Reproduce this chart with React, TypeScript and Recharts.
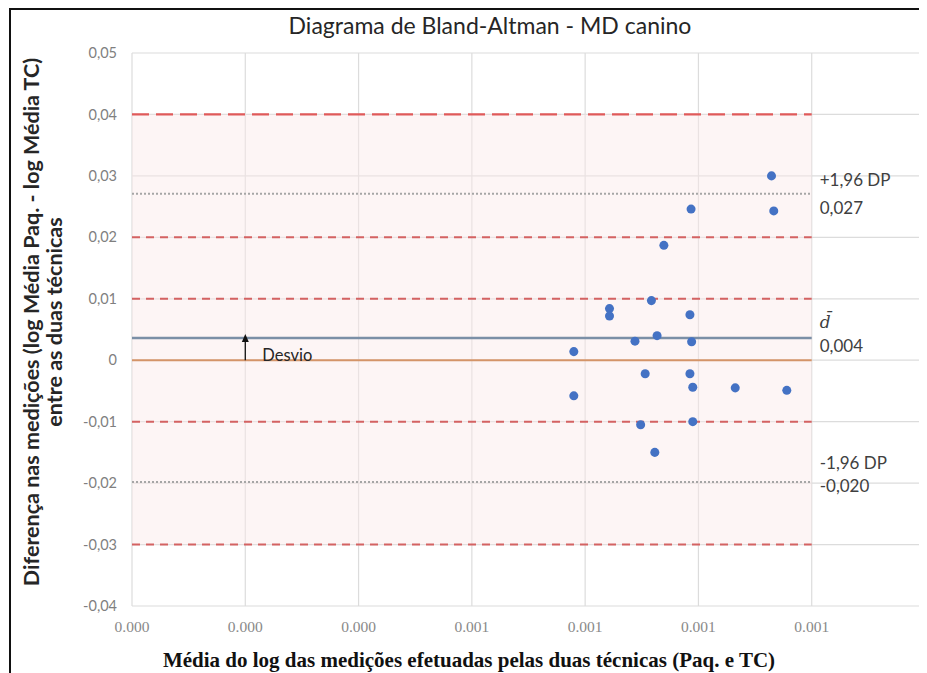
import React from 'react';
import {
  ScatterChart,
  Scatter,
  XAxis,
  YAxis,
  CartesianGrid,
  ReferenceLine,
  ReferenceArea,
} from 'recharts';

// Mean of the log of both measurements (x) and their difference (y)
const meanLog = [
  0.001129, 0.000987, 0.001133, 0.000939, 0.000917, 0.000843, 0.000843,
  0.000985, 0.000927, 0.000888, 0.000988, 0.00078, 0.000906, 0.000985,
  0.00099, 0.001065, 0.001156, 0.00078, 0.000898, 0.00099, 0.000923,
];
const diffLog = [
  0.0300, 0.0246, 0.0243, 0.0187, 0.0097, 0.0084, 0.0072,
  0.0074, 0.0040, 0.0031, 0.0030, 0.0014, -0.0022, -0.0022,
  -0.0044, -0.0045, -0.0049, -0.0058, -0.0105, -0.0100, -0.0150,
];

const xTicks = [0, 0.0002, 0.0004, 0.0006, 0.0008, 0.001, 0.0012, 0.0014];
const yTicks = [-0.04, -0.03, -0.02, -0.01, 0, 0.01, 0.02, 0.03, 0.04, 0.05];
const longDashLevels = [0.04];
const shortDashLevels = [0.02, 0.01, -0.01, -0.03];
const meanDiff = 0.0036;
const upperLimit = 0.0271;
const lowerLimit = -0.0198;
const shadeBand = [-0.03, 0.04];
const lastTick = 0.0012;
const arrowX = 0.0002;

const points = meanLog.map((x, i) => ({ x, y: diffLog[i] }));

const SANS = 'Lato, "Open Sans", sans-serif';
const SERIF = '"Liberation Serif", "Times New Roman", serif';

const comma = (v: number, digits: number) => v.toFixed(digits).replace('.', ',');

const yTickFormat = (v: number) => (Math.abs(v) < 1e-9 ? '0' : comma(v, 2));
const xTickFormat = (v: number) => (v > lastTick + 1e-9 ? '' : v.toFixed(3));

// Two-line text written to the right of a limit line
const sideLabel = (
  first: React.ReactNode,
  value: number,
  dyFirst: number,
  dySecond: number,
  firstStyle?: React.CSSProperties,
) =>
  (props: any) => {
    const vb = props.viewBox || {};
    const x = (vb.x || 0) + (vb.width || 0) + 8;
    const y = vb.y || 0;
    return (
      <g>
        <text x={x} y={y + dyFirst} fill="#404040" fontSize={17} fontFamily={SANS} dominantBaseline="middle" style={firstStyle}>
          {first}
        </text>
        <text x={x} y={y + dySecond} fill="#404040" fontSize={17} fontFamily={SANS} dominantBaseline="middle">
          {comma(value, 3)}
        </text>
      </g>
    );
  };

// Arrow from zero up to the mean difference, with its caption
const biasArrow = (p: any) => {
  const { x1, y1, x2, y2 } = p;
  const top = Math.min(y1, y2) - 4;
  const bottom = Math.max(y1, y2);
  return (
    <g>
      <line x1={x1} y1={bottom} x2={x2} y2={top + 6} stroke="#111" strokeWidth={1.3} />
      <polygon points={`${x2 - 3.5},${top + 8} ${x2 + 3.5},${top + 8} ${x2},${top}`} fill="#111" />
      <text x={x1 + 17} y={bottom - 3} fill="#262626" fontSize={16.5} fontFamily={SANS} dominantBaseline="middle">
        Desvio
      </text>
    </g>
  );
};

export default function App() {
  return (
    <div
      style={{
        position: 'relative',
        width: 918,
        height: 665,
        marginLeft: 1,
        borderTop: '2px solid #111',
        borderLeft: '2px solid #111',
        boxSizing: 'border-box',
        background: '#fff',
      }}
    >
      <div
        style={{
          position: 'absolute',
          left: 479 - 300,
          width: 600,
          top: 1,
          textAlign: 'center',
          fontFamily: SANS,
          fontSize: 23,
          lineHeight: '28px',
          color: '#262626',
          whiteSpace: 'nowrap',
        }}
      >
        Diagrama de Bland-Altman - MD canino
      </div>

      <div
        style={{
          position: 'absolute',
          left: 32 - 320,
          top: 312 - 23,
          width: 640,
          height: 46,
          transform: 'rotate(-90deg)',
          textAlign: 'center',
          fontFamily: SANS,
          fontWeight: 700,
          fontSize: 21.5,
          lineHeight: '23px',
          color: '#262626',
          whiteSpace: 'nowrap',
        }}
      >
        Diferença nas medições (log Média Paq. - log Média TC)
        <br />
        entre as duas técnicas
      </div>

      <div
        style={{
          position: 'absolute',
          left: 458 - 400,
          width: 800,
          top: 637,
          textAlign: 'center',
          fontFamily: SERIF,
          fontWeight: 700,
          fontSize: 21,
          lineHeight: '26px',
          color: '#111',
          whiteSpace: 'nowrap',
        }}
      >
        Média do log das medições efetuadas pelas duas técnicas (Paq. e TC)
      </div>

      <ScatterChart width={916} height={663} margin={{ top: 43, right: 2, bottom: 37, left: 21 }}>
        <CartesianGrid stroke="#dcdcdc" strokeWidth={1.2} />
        <XAxis
          type="number"
          dataKey="x"
          domain={[0, 0.0014]}
          ticks={xTicks}
          tickFormatter={xTickFormat}
          axisLine={false}
          tickLine={false}
          tickSize={8}
          tickMargin={7}
          height={30}
          tick={{ fill: '#8a8a8a', fontSize: 15.5, fontFamily: SERIF }}
          allowDataOverflow
        />
        <YAxis
          type="number"
          dataKey="y"
          domain={[-0.04, 0.05]}
          ticks={yTicks}
          tickFormatter={yTickFormat}
          axisLine={false}
          tickLine={false}
          tickSize={8}
          tickMargin={7}
          width={100}
          tick={{ fill: '#7f7f7f', fontSize: 14.5, fontFamily: SANS }}
          allowDataOverflow
        />

        <ReferenceArea
          x1={0}
          x2={lastTick}
          y1={shadeBand[0]}
          y2={shadeBand[1]}
          fill="#fbe9e9"
          fillOpacity={0.45}
          stroke="none"
        />

        {longDashLevels.map((v) => (
          <ReferenceLine
            key={`l${v}`}
            segment={[{ x: 0, y: v }, { x: lastTick, y: v }]}
            stroke="#e05a5a"
            strokeWidth={2.2}
            strokeDasharray="17 7"
          />
        ))}
        {shortDashLevels.map((v) => (
          <ReferenceLine
            key={`s${v}`}
            segment={[{ x: 0, y: v }, { x: lastTick, y: v }]}
            stroke="#d46262"
            strokeWidth={2}
            strokeDasharray="8 6"
          />
        ))}

        <ReferenceLine
          segment={[{ x: 0, y: 0 }, { x: lastTick, y: 0 }]}
          stroke="#d49468"
          strokeWidth={2}
        />
        <ReferenceLine
          segment={[{ x: 0, y: upperLimit }, { x: lastTick, y: upperLimit }]}
          stroke="#a6a6a6"
          strokeWidth={2}
          strokeDasharray="2 2"
          label={sideLabel('+1,96 DP', upperLimit, -12, 16)}
        />
        <ReferenceLine
          segment={[{ x: 0, y: lowerLimit }, { x: lastTick, y: lowerLimit }]}
          stroke="#a6a6a6"
          strokeWidth={2}
          strokeDasharray="2 2"
          label={sideLabel('-1,96 DP', lowerLimit, -17, 6)}
        />
        <ReferenceLine
          segment={[{ x: 0, y: meanDiff }, { x: lastTick, y: meanDiff }]}
          stroke="#7b8fa6"
          strokeWidth={2.5}
          label={sideLabel('d\u0304', meanDiff, -15, 10, {
            fontFamily: '"DejaVu Serif", serif',
            fontStyle: 'italic',
            fontSize: 17,
          })}
        />
        <ReferenceLine
          segment={[{ x: arrowX, y: 0 }, { x: arrowX, y: meanDiff }]}
          stroke="#111"
          shape={biasArrow}
        />

        <Scatter data={points} fill="#4472c4" isAnimationActive={false} />
      </ScatterChart>
    </div>
  );
}
